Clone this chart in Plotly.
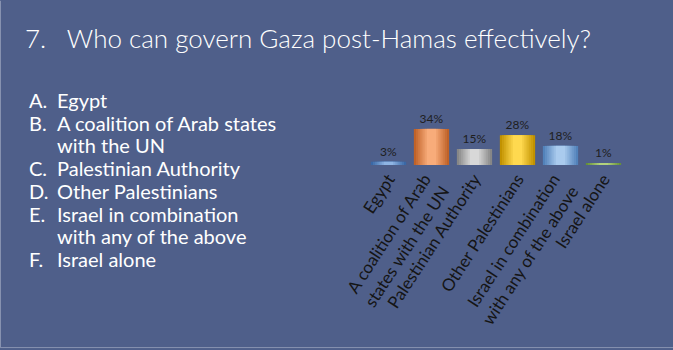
import plotly.graph_objects as go

# ---- data ----
categories = ["Egypt", "A coalition of Arab<br>states with the UN", "Palestinian Authority",
              "Other Palestinians", "Israel in combination<br>with any of the above", "Israel alone"]
values = [3, 34, 15, 28, 18, 1]
letters = ["A.", "B.", "", "C.", "D.", "E.", "", "F."]
list_items = ["Egypt", "A coalition of Arab states", "with the UN", "Palestinian Authority",
              "Other Palestinians", "Israel in combination", "with any of the above", "Israel alone"]
title_text = "7.   Who can govern Gaza post-Hamas effectively?"

# ---- styles ----
dark = ["#3A68A6", "#BF6228", "#878787", "#C29200", "#5282BA", "#66903A"]
light = ["#8FB5E4", "#F8AC7A", "#D8D8D8", "#FFD94F", "#AACBEE", "#B2D27D"]
BG = "#4F5F8A"
W, H = 673, 350
L, R, T, B = 367, 48, 102, 184.5
PW, PH = W - L - R, H - T - B


def px2x(px):
    return (px - L) / PW


def py2y(py):
    return (H - py - B) / PH


def mix(c1, c2, t):
    a = [int(c1[i:i + 2], 16) for i in (1, 3, 5)]
    b = [int(c2[i:i + 2], 16) for i in (1, 3, 5)]
    return "#" + "".join(f"{round(x + (y - x) * t):02X}" for x, y in zip(a, b))


fig = go.Figure()
widths = [0.82, 0.72, 0.62, 0.52, 0.42, 0.32, 0.22]
for k, wd in enumerate(widths):
    t = k / (len(widths) - 1)
    cols = [mix(d, l, t) for d, l in zip(dark, light)]
    fig.add_trace(go.Bar(
        x=categories, y=values, width=wd, marker=dict(color=cols, line=dict(width=0)),
        text=[f"{v}%" for v in values] if k == 0 else None,
        textposition="outside" if k == 0 else "none", cliponaxis=False,
        textfont=dict(family="Lato", size=12, color="#1E1E1E"), hoverinfo="skip"))

# invisible helper trace on the second (label) axis
fig.add_trace(go.Scatter(x=categories, y=values, xaxis="x2", mode="markers",
                         marker=dict(opacity=0), hoverinfo="skip"))

single = [c for c in categories if "<br>" not in c]
multi = [c for c in categories if "<br>" in c]
tickfont = dict(family="Lato", size=17, color="#151515")

fig.update_layout(
    width=W, height=H, barmode="overlay", showlegend=False,
    paper_bgcolor=BG, plot_bgcolor=BG,
    margin=dict(l=L, r=R, t=T, b=B, autoexpand=False),
    title=dict(text=title_text, x=25 / W, xanchor="left", xref="container",
               y=1 - 39 / H, yanchor="middle", yref="container",
               font=dict(family="Lato", size=26, weight=300, color="#FFFFFF")),
    xaxis=dict(tickangle=-57, showgrid=False, showline=False, zeroline=False, ticks="",
               tickmode="array", tickvals=single, ticktext=single,
               tickfont=tickfont, automargin=False),
    xaxis2=dict(overlaying="x", matches="x", side="bottom", tickangle=-57, showgrid=False,
                showline=False, zeroline=False, ticks="", tickmode="array",
                tickvals=multi, ticktext=multi, ticklabelshift=-7,
                tickfont=tickfont, automargin=False),
    yaxis=dict(range=[0, PH / 1.07], visible=False, showgrid=False, zeroline=False),
)

# thin slide border (left and bottom edges)
fig.add_shape(type="line", xref="paper", yref="paper", x0=px2x(0.5), x1=px2x(0.5),
              y0=py2y(0), y1=py2y(349), line=dict(color="#8792B0", width=1))
fig.add_shape(type="line", xref="paper", yref="paper", x0=px2x(0), x1=px2x(W),
              y0=py2y(349.5), y1=py2y(349.5), line=dict(color="#8792B0", width=1))

for i, (let, item) in enumerate(zip(letters, list_items)):
    yc = py2y(100 + i * 22.9)
    if let:
        fig.add_annotation(text=let, xref="paper", yref="paper", x=px2x(27), y=yc,
                           xanchor="left", yanchor="middle", showarrow=False,
                           font=dict(family="Lato", size=20, color="#FFFFFF"))
    fig.add_annotation(text=item, xref="paper", yref="paper", x=px2x(55), y=yc,
                       xanchor="left", yanchor="middle", showarrow=False,
                       font=dict(family="Lato", size=20, color="#FFFFFF"))

fig.write_html("out.html")
